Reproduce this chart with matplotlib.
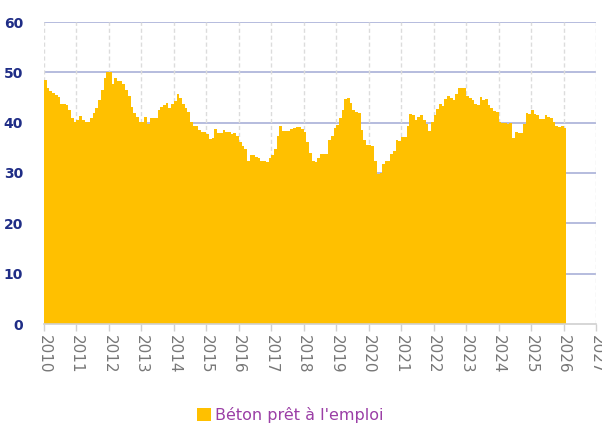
import numpy as np
import matplotlib
matplotlib.use("Agg")
import matplotlib.pyplot as plt
from matplotlib.patches import Patch

# ---- data (monthly index, Jan 2010 onwards) ----
series_label = "Béton prêt à l'emploi"
start_year = 2010
values_2010_2012 = [48.4, 46.9, 46.3, 45.9, 45.5, 45.1, 43.8, 43.7, 43.6, 42.5, 40.9, 40.2,
                    40.6, 41.4, 40.6, 40.1, 40.1, 41.0, 41.9, 43.0, 44.5, 46.5, 48.8, 50.0,
                    50.1, 47.6, 48.8, 48.3, 48.3, 47.6, 46.5, 45.2, 43.2, 41.9, 41.1, 40.1]
values_2013_2015 = [40.1, 41.1, 39.7, 40.9, 40.9, 40.9, 42.5, 43.2, 43.5, 44.0, 43.0, 43.7,
                    44.3, 45.7, 45.0, 43.7, 42.9, 42.2, 40.1, 39.4, 39.4, 38.6, 38.2, 38.2,
                    37.8, 36.8, 37.0, 38.8, 38.0, 38.0, 38.5, 38.2, 38.2, 37.8, 38.0, 37.4]
values_2016_2018 = [36.1, 35.4, 34.8, 32.4, 33.6, 33.6, 33.1, 33.0, 32.4, 32.4, 32.1, 32.9,
                    33.5, 34.8, 37.4, 39.4, 38.4, 38.4, 38.4, 38.7, 38.9, 39.1, 39.1, 38.8,
                    38.2, 36.1, 33.9, 32.4, 32.2, 32.9, 33.8, 33.8, 33.8, 36.6, 37.4, 38.9]
values_2019_2021 = [39.6, 40.9, 42.5, 44.7, 44.9, 43.9, 42.5, 42.2, 42.0, 38.6, 36.6, 35.5,
                    35.6, 35.4, 32.4, 29.8, 30.0, 31.7, 32.4, 32.3, 33.7, 34.3, 36.6, 36.4,
                    37.2, 37.1, 39.4, 41.7, 41.6, 40.6, 41.2, 41.6, 40.6, 39.7, 38.4, 40.1]
values_2022_2024 = [41.6, 42.7, 43.7, 43.4, 44.7, 45.3, 44.9, 44.5, 45.7, 46.9, 46.9, 46.9,
                    45.2, 44.9, 44.5, 43.7, 43.5, 45.1, 44.5, 44.7, 43.5, 42.9, 42.3, 42.2,
                    40.2, 40.0, 40.0, 39.7, 39.9, 37.0, 38.2, 37.9, 37.9, 39.7, 41.9, 41.7]
values_2025_2026 = [42.5, 41.7, 41.6, 40.7, 40.7, 41.6, 41.2, 41.0, 40.2, 39.4, 39.2, 39.4,
                    39.0]
tick_years = list(range(2010, 2028))
y_ticks = [0, 10, 20, 30, 40, 50, 60]

values = np.array(values_2010_2012 + values_2013_2015 + values_2016_2018 +
                  values_2019_2021 + values_2022_2024 + values_2025_2026)
edges = start_year + np.arange(len(values) + 1) / 12.0

# ---- figure ----
fig = plt.figure(figsize=(6.02, 4.26), dpi=100)
ax = fig.add_axes([44/602, 1 - 324/426, (596-44)/602, (324-22)/426])

ax.stairs(values, edges, fill=True, color="#FFC000", linewidth=0, zorder=2)

ax.set_xlim(2010, 2027)
ax.set_ylim(0, 60)
ax.set_xticks(tick_years)
ax.set_xticklabels([str(y) for y in tick_years], rotation=-90, fontsize=11,
                   color="#777777")
ax.set_yticks(y_ticks)
ax.set_yticklabels([str(v) for v in y_ticks], fontsize=10, fontweight="bold",
                   color="#1f2d86")

ax.tick_params(axis="y", length=0, pad=15)
ax.tick_params(axis="x", length=5, width=1, color="#d0d0d0", pad=3)

# grids
for yv in y_ticks[1:]:
    ax.axhline(yv, color="#a9b0d8", linewidth=1.2, zorder=1)
for xv in tick_years:
    ax.axvline(xv, color="#dcdcdc", linewidth=1, linestyle=(0, (3, 2)), zorder=1)

for s in ["top", "right", "left"]:
    ax.spines[s].set_visible(False)
ax.spines["bottom"].set_color("#d0d0d0")
ax.spines["bottom"].set_linewidth(1.2)
ax.spines["bottom"].set_zorder(3)

handle = Patch(facecolor="#FFC000", edgecolor="none")
leg = fig.legend([handle], [series_label], loc="center",
                 bbox_to_anchor=(290/602, 1 - 415/426), frameon=False,
                 fontsize=11.5, handlelength=0.85, handleheight=0.85,
                 handletextpad=0.25, borderpad=0)
for t in leg.get_texts():
    t.set_color("#9b3fa6")

fig.savefig("out.png", dpi=100)
